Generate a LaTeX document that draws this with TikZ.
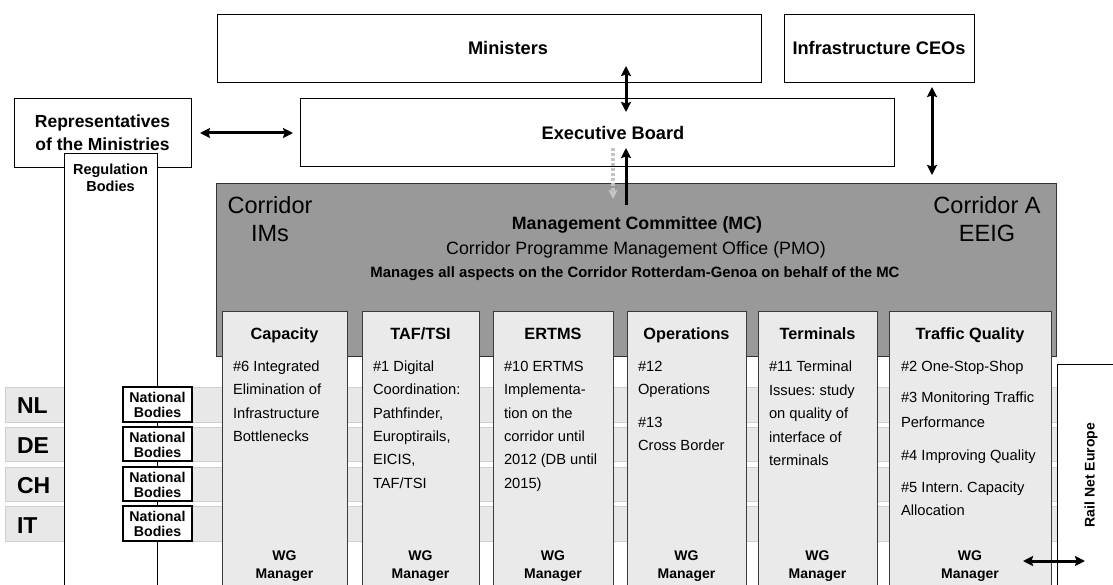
\documentclass[tikz,border=0pt]{standalone}
\usepackage{fontspec}
\setmainfont{Liberation Sans}
\usetikzlibrary{arrows.meta}
\frenchspacing
\definecolor{midgray}{HTML}{999999}
\definecolor{colfill}{HTML}{EAEAEA}
\definecolor{bandfill}{HTML}{E8E8E8}
\definecolor{banddraw}{HTML}{CFCFCF}
\definecolor{dotgray}{HTML}{C4C4C4}
\definecolor{coldraw}{HTML}{3A3A3A}
\newcommand{\fsz}[2]{\fontsize{#1}{#2}\selectfont}
\newcommand{\rbox}[6]{\node[#6, minimum width={(#4)-(#2)}, minimum height={(#5)-(#3)}] (#1) at (#2,#3) {};}
\begin{document}
\frenchspacing
\begin{tikzpicture}[x=1pt,y=-1pt,
  shp/.style={inner sep=0pt, outer sep=0pt, anchor=north west, rectangle},
  wbox/.style={shp, draw=black, line width=0.9pt, fill=white},
  gbox/.style={shp, draw=black!80, line width=0.9pt, fill=midgray},
  colbox/.style={shp, draw=coldraw, line width=1pt, fill=colfill},
  band/.style={shp, draw=banddraw, line width=0.8pt, fill=bandfill},
  nbox/.style={shp, draw=black, line width=1.2pt, fill=white},
  txt/.style={inner sep=0pt, outer sep=0pt, anchor=base},
  ttl/.style={txt, font=\bfseries\fsz{18.2}{22}},
  rep/.style={txt, font=\bfseries\fsz{17.5}{21}},
  reg/.style={txt, font=\bfseries\fsz{14.5}{17}},
  big/.style={txt, font=\fsz{23.5}{28}},
  mc/.style={txt, font=\bfseries\fsz{17.8}{21}},
  pmo/.style={txt, font=\fsz{17.8}{21}},
  mng/.style={txt, font=\bfseries\fsz{14.9}{18}},
  ctry/.style={txt, anchor=base west, font=\bfseries\fsz{23}{27}},
  nat/.style={txt, font=\bfseries\fsz{14.2}{15}},
  coltitle/.style={txt, font=\bfseries\fsz{16.3}{19}},
  body/.style={txt, anchor=base west, font=\fsz{14.7}{18}},
  wg/.style={txt, font=\bfseries\fsz{14}{17}},
  rne/.style={inner sep=0pt, outer sep=0pt, rotate=90, font=\bfseries\fsz{14}{17}},
  tip/.tip={Stealth[length=10pt,width=10pt,inset=1.5pt]},
  dbl/.style={tip-tip, line width=3pt},
  sgl/.style={-tip, line width=3pt},
  dot/.style={-{Stealth[length=9pt,width=9pt,inset=1.5pt]}, line width=3.2pt, draw=dotgray, dash pattern=on 3pt off 2pt}
]
\useasboundingbox (0,0) rectangle (1113,585);
\clip (0,0) rectangle (1113,585);

% top boxes
\rbox{min}{217}{14}{761}{82}{wbox}
\rbox{ceo}{784}{14}{974}{82}{wbox}
\rbox{exec}{300}{98}{894}{166}{wbox}
\rbox{rep}{14}{98}{191}{167}{wbox}

% country bands
\rbox{bNL}{5}{387}{1057}{422}{band}
\rbox{bDE}{5}{427}{1057}{461}{band}
\rbox{bCH}{5}{467}{1057}{501}{band}
\rbox{bIT}{5}{506}{1057}{541}{band}

% regulation bodies
\rbox{reg}{64}{153}{157}{620}{wbox}

% corridor box
\rbox{cor}{216}{183}{1056}{356}{gbox}

% working group columns
\rbox{cCap}{222}{311}{347}{620}{colbox}
\rbox{cTaf}{362}{311}{479}{620}{colbox}
\rbox{cErt}{493}{311}{613}{620}{colbox}
\rbox{cOps}{627}{311}{746}{620}{colbox}
\rbox{cTer}{758}{311}{877}{620}{colbox}
\rbox{cTq}{889}{311}{1051}{620}{colbox}

% Rail Net Europe
\rbox{rnebox}{1057}{364}{1140}{620}{wbox}

% national bodies
\rbox{nNL}{123}{387}{192}{422}{nbox}
\rbox{nDE}{123}{427}{192}{461}{nbox}
\rbox{nCH}{123}{467}{192}{501}{nbox}
\rbox{nIT}{123}{506}{192}{541}{nbox}

% texts top
\node[ttl] (tmin) at (508,54.5) {Ministers};
\node[ttl] (tceo) at (879,54.5) {Infrastructure CEOs};
\node[ttl] (texec) at (613,139.5) {Executive Board};
\node[rep] (trep1) at (102.5,128) {Representatives};
\node[rep] (trep2) at (102.5,151) {of the Ministries};
\node[reg] (treg1) at (110.5,175) {Regulation};
\node[reg] (treg2) at (110.5,192) {Bodies};

% corridor texts
\node[big] (tci1) at (270,213.5) {Corridor};
\node[big] (tci2) at (270,241.5) {IMs};
\node[big] (tca1) at (987,213.5) {Corridor A};
\node[big] (tca2) at (987,241.5) {EEIG};
\node[mc] (tmc) at (637,229.5) {Management Committee (MC)};
\node[pmo] (tpmo) at (636,254.5) {Corridor Programme Management Office (PMO)};
\node[mng] (tmng) at (635,277.5) {Manages all aspects on the Corridor Rotterdam-Genoa on behalf of the MC};

% countries
\node[ctry] (tNL) at (17,413) {NL};
\node[ctry] (tDE) at (17,453) {DE};
\node[ctry] (tCH) at (17,493) {CH};
\node[ctry] (tIT) at (17,533) {IT};
\foreach \nm/\yy in {NL/387,DE/427,CH/467,IT/506}{
  \node[nat] (nat1\nm) at (157.5,\yy+15) {National};
  \node[nat] (nat2\nm) at (157.5,\yy+30) {Bodies};
}

% column titles
\node[coltitle] (hCap) at (284.5,339) {Capacity};
\node[coltitle] (hTaf) at (420.5,339) {TAF/TSI};
\node[coltitle] (hErt) at (553,339) {ERTMS};
\node[coltitle] (hOps) at (686.5,339) {Operations};
\node[coltitle] (hTer) at (817.5,339) {Terminals};
\node[coltitle] (hTq) at (970,339) {Traffic Quality};

% column bodies
\foreach \yy/\tx [count=\i] in {371/{\#6 Integrated},394/{Elimination of},418/{Infrastructure},441/{Bottlenecks}}
  {\node[body] (bCap\i) at (233,\yy) {\tx};}
\foreach \yy/\tx [count=\i] in {371/{\#1 Digital},394/{Coordination:},418/{Pathfinder,},441/{Europtirails,},464/{EICIS,},488/{TAF/TSI}}
  {\node[body] (bTaf\i) at (373,\yy) {\tx};}
\foreach \yy/\tx [count=\i] in {371/{\#10 ERTMS},394/{Implementa-},418/{tion on the},441/{corridor until},464/{2012 (DB until},488/{2015)}}
  {\node[body] (bErt\i) at (504,\yy) {\tx};}
\foreach \yy/\tx [count=\i] in {371/{\#12},394/{Operations},427/{\#13},450/{Cross Border}}
  {\node[body] (bOps\i) at (638,\yy) {\tx};}
\foreach \yy/\tx [count=\i] in {371/{\#11 Terminal},395/{Issues:\ study},418/{on quality of},442/{interface of},465/{terminals}}
  {\node[body] (bTer\i) at (769,\yy) {\tx};}
\foreach \yy/\tx [count=\i] in {371/{\#2 One-Stop-Shop},402/{\#3 Monitoring Traffic},427/{Performance},460/{\#4 Improving Quality},492/{\#5 Intern.\ Capacity},515/{Allocation}}
  {\node[body] (bTq\i) at (901,\yy) {\tx};}

% WG managers
\foreach \nm/\xx in {Cap/284.5,Taf/420.5,Ert/553,Ops/686.5,Ter/817.5,Tq/970}{
  \node[wg] (wg1\nm) at (\xx,560) {WG};
  \node[wg] (wg2\nm) at (\xx,578) {Manager};
}

% Rail Net Europe label
\node[rne] (trne) at (1091,475) {Rail Net Europe};

% connectors
\coordinate (me1) at (626,66);
\coordinate (me2) at (626,112);
\coordinate (ce1) at (932,87);
\coordinate (ce2) at (932,175);
\coordinate (re1) at (200,133);
\coordinate (re2) at (293,133);
\coordinate (ed1) at (613,148);
\coordinate (ed2) at (613,199);
\coordinate (cu1) at (626,205);
\coordinate (cu2) at (626,148);
\coordinate (wr1) at (1023,561);
\coordinate (wr2) at (1085,561);
\draw[dbl] (me1) -- (me2);
\draw[dbl] (ce1) -- (ce2);
\draw[dbl] (re1) -- (re2);
\draw[dot] (ed1) -- (ed2);
\draw[sgl] (cu1) -- (cu2);
\draw[dbl] (wr1) -- (wr2);
\end{tikzpicture}
\end{document}
